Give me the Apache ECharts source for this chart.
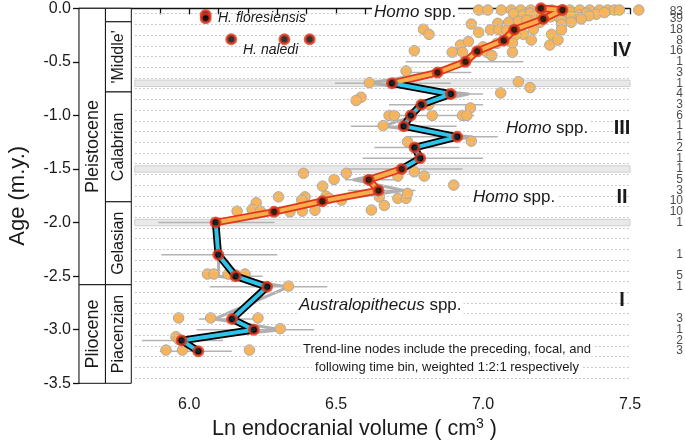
<!DOCTYPE html>
<html><head><meta charset="utf-8">
<script src="https://cdn.jsdelivr.net/npm/echarts@6/dist/echarts.min.js"></script>
<style>html,body{margin:0;padding:0;background:#fff}#c{width:685px;height:443px}</style>
</head><body><div id="c"></div>
<script>
// ---------------- DATA ----------------
// trend-line nodes (Ln endocranial volume, age in m.y.)
const trendX   = [7.197, 7.27, 7.205, 7.106, 7.07, 6.98, 6.94, 6.845, 6.69, 6.89, 6.79, 6.754, 6.73, 6.912, 6.767, 6.786, 6.723, 6.611, 6.644, 6.453, 6.289, 6.09, 6.099, 6.158, 6.265, 6.146, 6.22, 5.974, 6.031];
const trendAge = [0.0, -0.015, -0.1, -0.2, -0.3, -0.4, -0.5, -0.6, -0.7, -0.8, -0.9, -1.0, -1.1, -1.2, -1.3, -1.4, -1.5, -1.6, -1.7, -1.8, -1.9, -2.0, -2.3, -2.5, -2.6, -2.9, -3.0, -3.1, -3.2];
// phase boundaries (ages) where trend colour changes: IV | III | II | I
const phaseBreaks = [-0.7, -1.5, -2.0];
// raw bin means (grey line)
const rawX   = [7.27, 7.2, 7.1, 7.07, 6.97, 6.93, 6.83, 6.61, 6.95, 6.78, 6.77, 6.66, 6.96, 6.76, 6.79, 6.73, 6.56, 6.73, 6.45, 6.29, 6.09, 6.10, 6.10, 6.338, 6.085, 6.315, 5.96, 6.03];
const rawAge = [-0.015, -0.1, -0.2, -0.3, -0.4, -0.5, -0.6, -0.7, -0.8, -0.9, -1.0, -1.1, -1.2, -1.3, -1.4, -1.5, -1.6, -1.7, -1.8, -1.9, -2.0, -2.3, -2.5, -2.6, -2.9, -3.0, -3.1, -3.2];
// bin ranges (thin grey lines)
const rangeAge = [-0.5, -0.6, -0.7, -0.8, -0.9, -1.0, -1.1, -1.2, -1.3, -1.4, -1.5, -1.6, -1.7, -2.0, -2.3, -2.5, -2.6, -2.9, -3.0, -3.1, -3.2];
const rangeLo  = [6.737, 6.755, 6.496, 6.87, 6.68, 6.68, 6.55, 6.74, 6.63, 6.59, 6.53, 6.53, 6.54, 5.895, 5.905, 6.06, 6.07, 6.033, 6.025, 5.84, 5.90];
const rangeHi  = [7.137, 6.96, 6.89, 7.0, 7.0, 6.97, 6.91, 7.05, 6.92, 7.0, 6.93, 6.70, 6.77, 6.29, 6.30, 6.25, 6.47, 6.25, 6.425, 6.115, 6.145];
// individual specimens
const specX = [
 6.985,7.016,7.062,7.096,7.128,7.162,7.197,7.233,7.27,7.295,7.329,7.363,7.396,7.424,7.447,7.464,7.53,
 7.104,7.137,7.16,7.182,7.216,7.244,7.272,7.295,7.329,7.351,7.385,7.413,7.20,7.23,7.30,7.33,7.36,7.26,
 6.96,7.087,7.12,7.149,7.194,7.267,7.334,7.30,7.267,7.05,
 6.797,6.816,6.985,7.025,7.053,7.08,7.137,7.171,7.233,7.267,7.11,
 6.923,7.047,7.10,7.164,7.227,7.255,6.95,7.0,
 6.766,6.895,6.93,7.013,7.10,7.03,
 6.738,
 6.613,7.12,7.16,
 7.06,6.585,6.568,
 6.816,6.957,
 6.68,6.698,6.827,6.93,6.945,
 6.66,
 6.96,6.743,
 6.389,6.535,6.766,6.80,6.71,
 6.493,6.90,6.454,
 6.304,6.394,6.383,6.466,6.477,6.518,6.647,6.71,6.738,6.743,6.664,6.62,6.228,
 6.163,6.214,6.242,6.343,6.385,6.428,
 6.062,6.084,6.132,6.19,6.16,
 6.338,
 5.964,6.073,6.234,
 6.31,
 5.955,5.964,
 5.921,5.977,6.205];
const specAge = [
 -0.016,-0.016,-0.016,-0.016,-0.016,-0.016,-0.016,-0.016,-0.016,-0.016,-0.016,-0.016,-0.016,-0.016,-0.016,-0.016,-0.016,
 -0.05,-0.062,-0.045,-0.06,-0.05,-0.04,-0.055,-0.04,-0.06,-0.045,-0.055,-0.04,-0.075,-0.08,-0.075,-0.085,-0.07,-0.09,
 -0.147,-0.13,-0.12,-0.11,-0.13,-0.115,-0.10,-0.13,-0.15,-0.14,
 -0.196,-0.243,-0.224,-0.2,-0.2,-0.205,-0.243,-0.196,-0.243,-0.20,-0.25,
 -0.343,-0.327,-0.327,-0.296,-0.343,-0.296,-0.31,-0.36,
 -0.395,-0.41,-0.41,-0.41,-0.41,-0.44,
 -0.585,
 -0.694,-0.685,-0.74,
 -0.79,-0.83,-0.86,
 -0.897,-0.93,
 -1.0,-1.0,-1.0,-1.0,-1.0,
 -1.095,
 -1.24,-1.245,
 -1.54,-1.54,-1.526,-1.566,-1.566,
 -1.597,-1.65,-1.66,
 -1.76,-1.76,-1.79,-1.753,-1.774,-1.79,-1.76,-1.774,-1.774,-1.727,-1.84,-1.883,-1.815,
 -1.893,-1.877,-1.893,-1.9,-1.893,-1.885,
 -2.48,-2.48,-2.48,-2.48,-2.49,
 -2.593,
 -2.89,-2.89,-2.89,
 -2.99,
 -3.065,-3.09,
 -3.19,-3.19,-3.19];
// H. floresiensis and H. naledi
const florX = [6.056, 6.056], florAge = [-0.063, -0.093];
const nalediX = [6.143, 6.324, 6.41], nalediAge = [-0.29, -0.29, -0.29];
// specimen counts per bin (right margin)
const countAge = [-0.03, -0.1, -0.2, -0.3, -0.4, -0.5, -0.6, -0.7, -0.8, -0.9, -1.0, -1.1, -1.2, -1.3, -1.4, -1.5, -1.6, -1.7, -1.8, -1.9, -2.0, -2.3, -2.5, -2.6, -2.9, -3.0, -3.1, -3.2];
const countN   = [83, 39, 18, 8, 16, 1, 3, 1, 4, 3, 6, 1, 1, 2, 1, 1, 5, 3, 10, 10, 1, 1, 5, 1, 3, 1, 2, 3];
// axis ticks
const xTickValues  = [5.7, 5.8, 5.9, 6.0, 6.1, 6.2, 6.3, 6.4, 6.5, 6.6, 6.7, 6.8, 6.9, 7.0, 7.1, 7.2, 7.3, 7.4, 7.5];
const xLabelValues = [6.0, 6.5, 7.0, 7.5];
// geological time scale
const epochNames = ['Pleistocene', 'Pliocene'];
const epochTop   = [0, -2.58];
const epochBot   = [-2.58, -3.5];
const stageNames = ['', '\'Middle\'', 'Calabrian', 'Gelasian', 'Piacenzian'];
const stageTop   = [0, -0.126, -0.781, -1.806, -2.58];
const stageBot   = [-0.126, -0.781, -1.806, -2.58, -3.5];
const bandAges   = [-0.7, -1.5, -2.0];

// ---------------- CHART ----------------
const FONT = 'Liberation Sans, Arial, sans-serif';
const TXT = '#1a1a1a';
const X0 = 5.625, X1 = 7.5, COL1 = 5.715, COL2 = 5.803;

function pairs(xs, ys) { return xs.map((x, i) => [x, ys[i]]); }
const trendPts = pairs(trendX, trendAge);
function seg(a, b) { return trendPts.filter(p => p[1] <= a + 1e-9 && p[1] >= b - 1e-9); }
const groups = [
  {pts: seg(0.1, phaseBreaks[0]), fill: '#F7AE4A', edge: '#E3361B'},
  {pts: seg(phaseBreaks[0], phaseBreaks[1]), fill: '#2EC4EA', edge: '#000000'},
  {pts: seg(phaseBreaks[1], phaseBreaks[2]), fill: '#F7AE4A', edge: '#E3361B'},
  {pts: seg(phaseBreaks[2], -4), fill: '#2EC4EA', edge: '#000000'}
];

const gridAges = [];
for (let k = 0; k < 35; k++) gridAges.push(-(0.05 + 0.1 * k));

const geoBoxes = [];
epochNames.forEach((n, i) => geoBoxes.push({value: [X0, COL1, epochTop[i], epochBot[i]], name: n, fs: 18}));
stageNames.forEach((n, i) => geoBoxes.push({value: [COL1, COL2, stageTop[i], stageBot[i]], name: n, fs: 16}));

const series = [];
// background: dotted bin lines and grey bands
series.push({
  type: 'line', data: [[5.7, -3.45]], showSymbol: false, symbol: 'none', lineStyle: {width: 0}, silent: true, z: 1,
  markLine: {silent: true, symbol: ['none', 'none'], label: {show: false}, animation: false,
    lineStyle: {color: '#c9c9c9', type: [2, 2], width: 1},
    data: gridAges.map(a => [{coord: [5.815, a]}, {coord: [X1, a]}])},
  markArea: {silent: true, label: {show: false},
    itemStyle: {color: '#e9e9e9', borderColor: '#cfcfcf', borderWidth: 1},
    data: bandAges.map(a => [{coord: [5.815, a + 0.03]}, {coord: [X1, a - 0.03]}])}
});
// range lines
series.push({
  type: 'custom', z: 2, silent: true,
  data: rangeAge.map((a, i) => [a, rangeLo[i], rangeHi[i]]),
  renderItem: (params, api) => {
    const p0 = api.coord([api.value(1), api.value(0)]);
    const p1 = api.coord([api.value(2), api.value(0)]);
    return {type: 'line', shape: {x1: p0[0], y1: p0[1], x2: p1[0], y2: p1[1]}, style: {stroke: '#b3b3b3', lineWidth: 1.5}};
  }
});
// raw mean line
series.push({type: 'line', z: 3, data: pairs(rawX, rawAge), symbol: 'none', silent: true,
  lineStyle: {color: '#b0b0b0', width: 3, join: 'round'}});
// specimens
series.push({type: 'scatter', z: 4, data: pairs(specX, specAge), symbol: 'circle', symbolSize: 10.5, clip: false,
  itemStyle: {color: '#F6B55C', borderColor: '#aaaaaa', borderWidth: 1, opacity: 1}});
// trend segments
groups.forEach(g => {
  series.push({type: 'line', z: 5, data: g.pts, symbol: 'none', silent: true, lineStyle: {color: g.edge, width: 7.5, join: 'round', cap: 'round'}});
});
groups.forEach(g => {
  series.push({type: 'line', z: 6, data: g.pts, symbol: 'none', silent: true, lineStyle: {color: g.fill, width: 4, join: 'round', cap: 'round'}});
});
// nodes
const nodeStyle = {color: '#000', borderColor: '#E3361B', borderWidth: 3};
series.push({type: 'scatter', z: 7, data: trendPts, symbolSize: 9, itemStyle: nodeStyle, clip: false});
series.push({type: 'scatter', z: 7, data: pairs(florX, florAge), symbolSize: 9, itemStyle: nodeStyle});
series.push({type: 'scatter', z: 7, data: pairs(nalediX, nalediAge), symbolSize: 9, itemStyle: nodeStyle});
// counts per bin, right margin
series.push({type: 'scatter', z: 7, data: countAge.map((a, i) => ({value: [X1, a], n: countN[i]})), symbolSize: 0, clip: false, silent: true,
  label: {show: true, position: 'inside', align: 'right', offset: [53, 0], fontSize: 12, fontFamily: FONT, color: TXT,
    formatter: p => String(p.data.n)}});
// geological columns
series.push({
  type: 'custom', z: 8, silent: true, data: geoBoxes,
  renderItem: (params, api) => {
    const b = geoBoxes[params.dataIndex];
    const p0 = api.coord([b.value[0], b.value[2]]);
    const p1 = api.coord([b.value[1], b.value[3]]);
    return {type: 'group', children: [
      {type: 'rect', shape: {x: p0[0], y: p0[1], width: p1[0] - p0[0], height: p1[1] - p0[1]}, style: {fill: '#fff', stroke: '#111', lineWidth: 1}},
      {type: 'text', x: (p0[0] + p1[0]) / 2 + 0.5, y: (p0[1] + p1[1]) / 2, rotation: Math.PI / 2,
        style: {text: b.name, fontSize: b.fs, fontFamily: FONT, fill: TXT, align: 'center', verticalAlign: 'middle'}}
    ]};
  }
});

const homoRich = {i: {fontStyle: 'italic', fontSize: 17, fontFamily: FONT, fill: TXT}};
function label(x, y, text, opt) {
  return Object.assign({type: 'text', x: x, y: y, z: 100,
    style: Object.assign({text: text, fontSize: 17, fontFamily: FONT, fill: TXT, textAlign: 'left', textVerticalAlign: 'middle', rich: homoRich}, opt || {})});
}
const graphics = [
  label(372, 12, '{i|Homo} spp.', {backgroundColor: '#fff', padding: [1, 2]}),
  label(504, 128, '{i|Homo} spp.', {backgroundColor: '#fff', padding: [1, 2]}),
  label(471, 197, '{i|Homo} spp.', {backgroundColor: '#fff', padding: [1, 2]}),
  label(297, 305, '{i|Australopithecus} spp.', {backgroundColor: '#fff', padding: [1, 2]}),
  label(622, 50, 'IV', {fontWeight: 'bold', fontSize: 20, textAlign: 'center'}),
  label(622, 128, 'III', {fontWeight: 'bold', fontSize: 20, textAlign: 'center'}),
  label(622, 197, 'II', {fontWeight: 'bold', fontSize: 20, textAlign: 'center'}),
  label(622, 300, 'I', {fontWeight: 'bold', fontSize: 20, textAlign: 'center'}),
  label(218, 18, 'H. floresiensis', {fontStyle: 'italic', fontSize: 14}),
  label(243, 50, 'H. naledi', {fontStyle: 'italic', fontSize: 14}),
  label(447, 349, 'Trend-line nodes include the preceding, focal, and', {fontSize: 13, textAlign: 'center', backgroundColor: '#fff', padding: [1, 3]}),
  label(447, 367, 'following time bin, weighted 1:2:1 respectively', {fontSize: 13, textAlign: 'center', backgroundColor: '#fff', padding: [1, 3]})
];

const option = {
  animation: false,
  backgroundColor: '#fff',
  grid: {left: 79, right: 55, top: 8.3, bottom: 59.7, containLabel: false, outerBoundsMode: 'none'},
  xAxis: {
    type: 'value', min: X0, max: X1,
    name: 'Ln endocranial volume ( cm{sup|3} )', nameLocation: 'middle', nameGap: 30,
    nameTextStyle: {fontSize: 21.5, fontFamily: FONT, color: TXT,
      rich: {sup: {fontSize: 14, fontFamily: FONT, color: TXT, verticalAlign: 'top', padding: [0, 0, 10, 0]}}},
    axisLine: {lineStyle: {color: '#111', width: 1.3}},
    axisTick: {customValues: xTickValues, length: 6, lineStyle: {color: '#111', width: 1.3}},
    axisLabel: {customValues: xLabelValues, formatter: v => v.toFixed(1), fontSize: 16, fontFamily: FONT, color: TXT, margin: 13},
    splitLine: {show: false}
  },
  yAxis: {
    type: 'value', min: -3.5, max: 0, interval: 0.5,
    name: 'Age (m.y.)', nameLocation: 'middle', nameGap: 50, nameRotate: 90,
    nameTextStyle: {fontSize: 22, fontFamily: FONT, color: TXT},
    axisLine: {show: true, lineStyle: {color: '#111', width: 1.3}},
    axisTick: {show: true, length: 6, lineStyle: {color: '#111', width: 1.3}},
    axisLabel: {formatter: v => v.toFixed(1), fontSize: 16, fontFamily: FONT, color: TXT, margin: 8},
    splitLine: {show: false}
  },
  graphic: graphics,
  series: series
};
const chart = echarts.init(document.getElementById('c'), null, {renderer: 'canvas'});
chart.setOption(option);
</script></body></html>
